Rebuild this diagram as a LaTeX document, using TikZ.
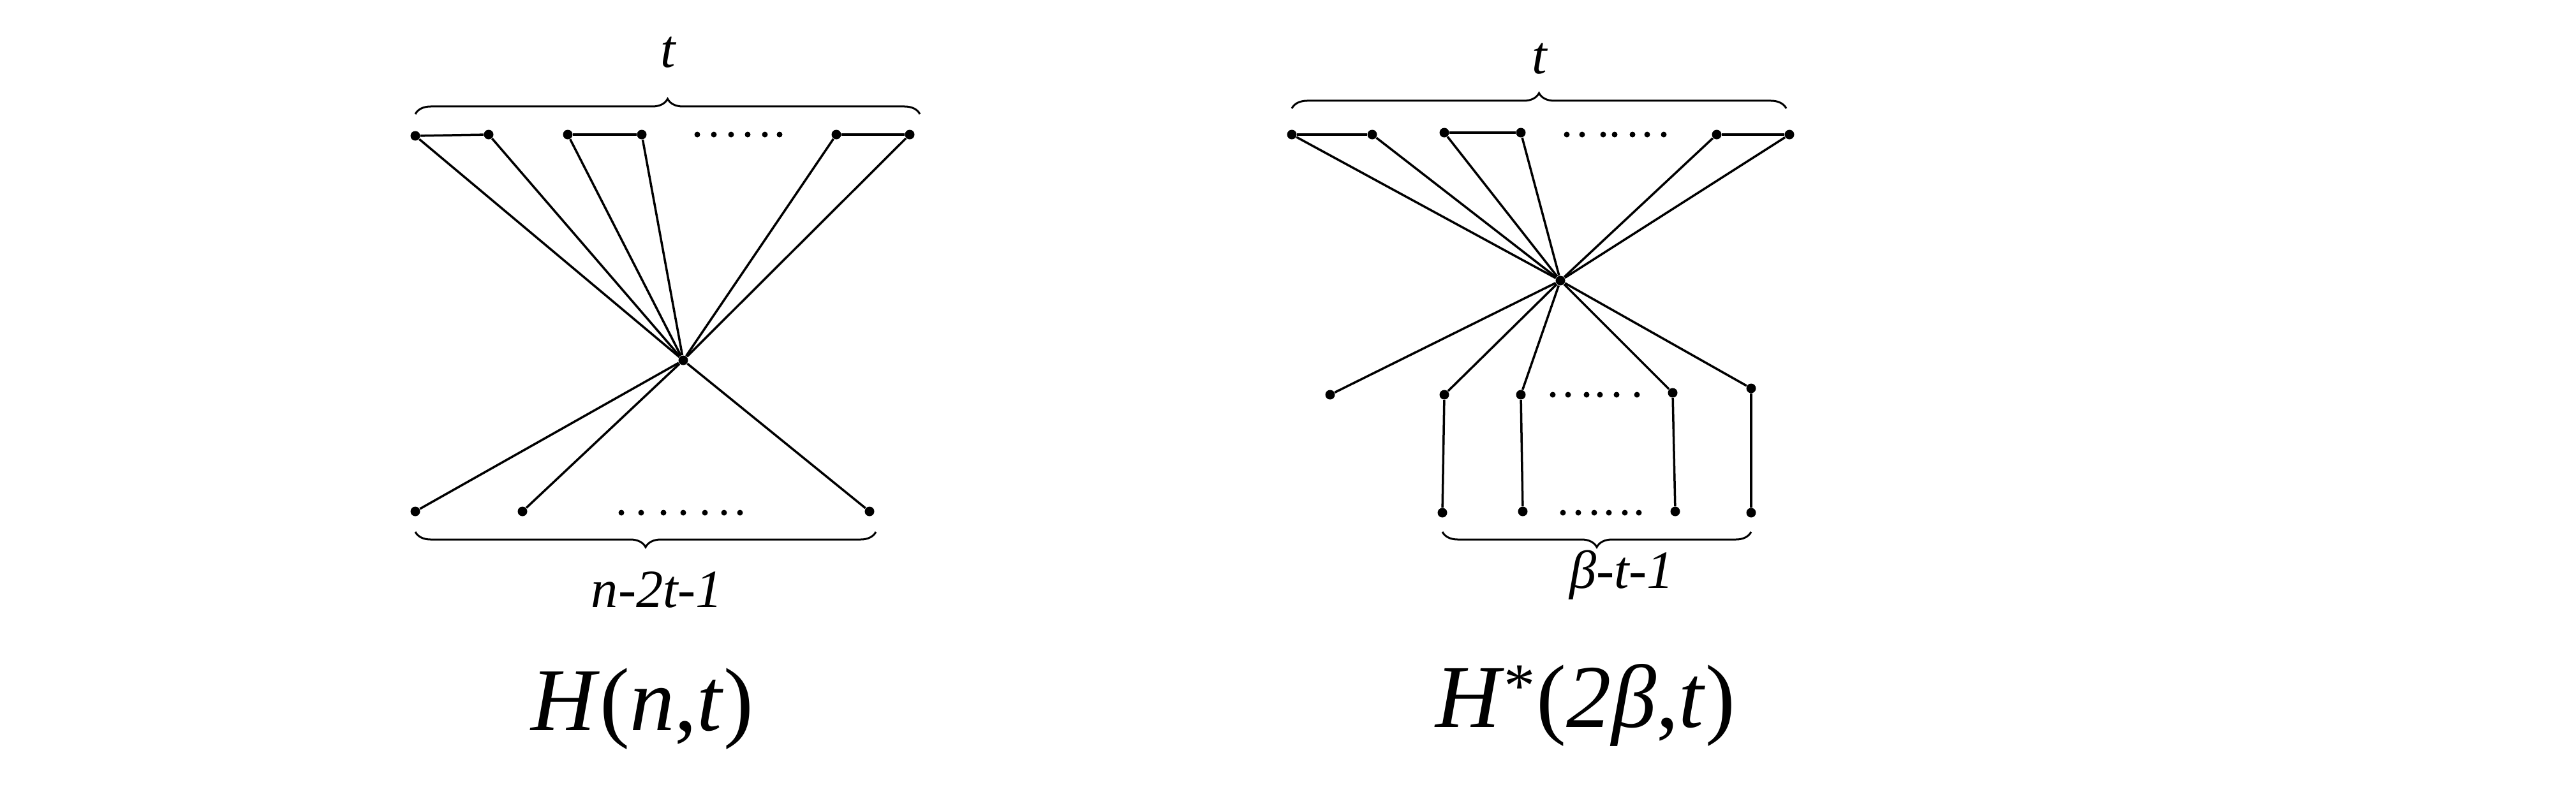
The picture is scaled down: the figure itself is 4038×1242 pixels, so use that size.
\documentclass[tikz,border=0pt]{standalone}
\usepackage{fontspec}
\setmainfont{Liberation Serif}
\usetikzlibrary{decorations.pathreplacing}

\tikzset{
    vtx/.style={circle,fill,inner sep=0pt,minimum size=0.15cm},
    edge/.style={line width=0.035cm},
    gap/.style={fill,radius=0.045cm},
    brc/.style={decorate,decoration={brace,amplitude=0.24cm},line width=0.03cm},
    lbl/.style={font=\fontsize{24}{24}\selectfont\itshape},
    title/.style={font=\fontsize{40}{40}\selectfont}
}

\begin{document}
\begin{tikzpicture}[x=0.01cm,y=-0.01cm]
    \useasboundingbox (0,0) rectangle (4038,1242);

    % H(n,t)
    \node[vtx] (c) at (1071,565) {};
    \node[vtx] (a1) at (651,213) {};
    \node[vtx] (a2) at (766,211) {};
    \node[vtx] (a3) at (890,211) {};
    \node[vtx] (a4) at (1006,211) {};
    \node[vtx] (a5) at (1311,211) {};
    \node[vtx] (a6) at (1426,211) {};
    \draw[edge] (a1) -- (a2);
    \draw[edge] (a3) -- (a4);
    \draw[edge] (a5) -- (a6);
    \foreach \v in {a1,a2,a3,a4,a5,a6}
        \draw[edge] (\v) -- (c);
    \foreach \x in {1093,1119,1146,1172,1199,1222}
        \fill[gap] (\x,211) circle;
    \node[vtx] (b1) at (651,802) {};
    \node[vtx] (b2) at (819,802) {};
    \node[vtx] (b3) at (1363,802) {};
    \foreach \v in {b1,b2,b3}
        \draw[edge] (\v) -- (c);
    \foreach \x in {974,1005,1040,1071,1105,1135,1160}
        \fill[gap] (\x,804) circle;
    \draw[brc] (651,179) -- (1442,179);
    \node[lbl] (t1) at (1047,82) {t};
    \draw[brc] (1373,834) -- (651,834);
    \node[lbl] (n1) at (1030,925) {n-2t-1};
    \node[title] (h1) at (1007,1112) {\textit{H}(\textit{n},\textit{t})};

    % H*(2beta,t)
    \node[vtx] (d) at (2446,440) {};
    \node[vtx] (p1) at (2025,211) {};
    \node[vtx] (p2) at (2151,211) {};
    \node[vtx] (p3) at (2264,208) {};
    \node[vtx] (p4) at (2384,208) {};
    \node[vtx] (p5) at (2691,211) {};
    \node[vtx] (p6) at (2805,211) {};
    \draw[edge] (p1) -- (p2);
    \draw[edge] (p3) -- (p4);
    \draw[edge] (p5) -- (p6);
    \foreach \v in {p1,p2,p3,p4,p5,p6}
        \draw[edge] (\v) -- (d);
    \foreach \x in {2456,2480,2513,2531,2559,2582,2608}
        \fill[gap] (\x,211) circle;
    \node[vtx] (q0) at (2085,619) {};
    \node[vtx] (q1) at (2264,619) {};
    \node[vtx] (q2) at (2384,619) {};
    \node[vtx] (q3) at (2622,616) {};
    \node[vtx] (q4) at (2745,609) {};
    \foreach \v in {q0,q1,q2,q3,q4}
        \draw[edge] (\v) -- (d);
    \foreach \x in {2434,2458,2487,2508,2534,2566}
        \fill[gap] (\x,619) circle;
    \node[vtx] (r1) at (2261,804) {};
    \node[vtx] (r2) at (2387,802) {};
    \node[vtx] (r3) at (2626,802) {};
    \node[vtx] (r4) at (2745,804) {};
    \draw[edge] (q1) -- (r1);
    \draw[edge] (q2) -- (r2);
    \draw[edge] (q3) -- (r3);
    \draw[edge] (q4) -- (r4);
    \foreach \x in {2450,2474,2499,2522,2547,2569}
        \fill[gap] (\x,804) circle;
    \draw[brc] (2025,170) -- (2800,170);
    \node[lbl] (t2) at (2413,92) {t};
    \draw[brc] (2745,834) -- (2261,834);
    \node[lbl] (n2) at (2542,902) {β-t-1};
    \node[title] (h2) at (2485,1106) {\textit{H}\textsuperscript{*}(\textit{2β},\textit{t})};
\end{tikzpicture}
\end{document}
